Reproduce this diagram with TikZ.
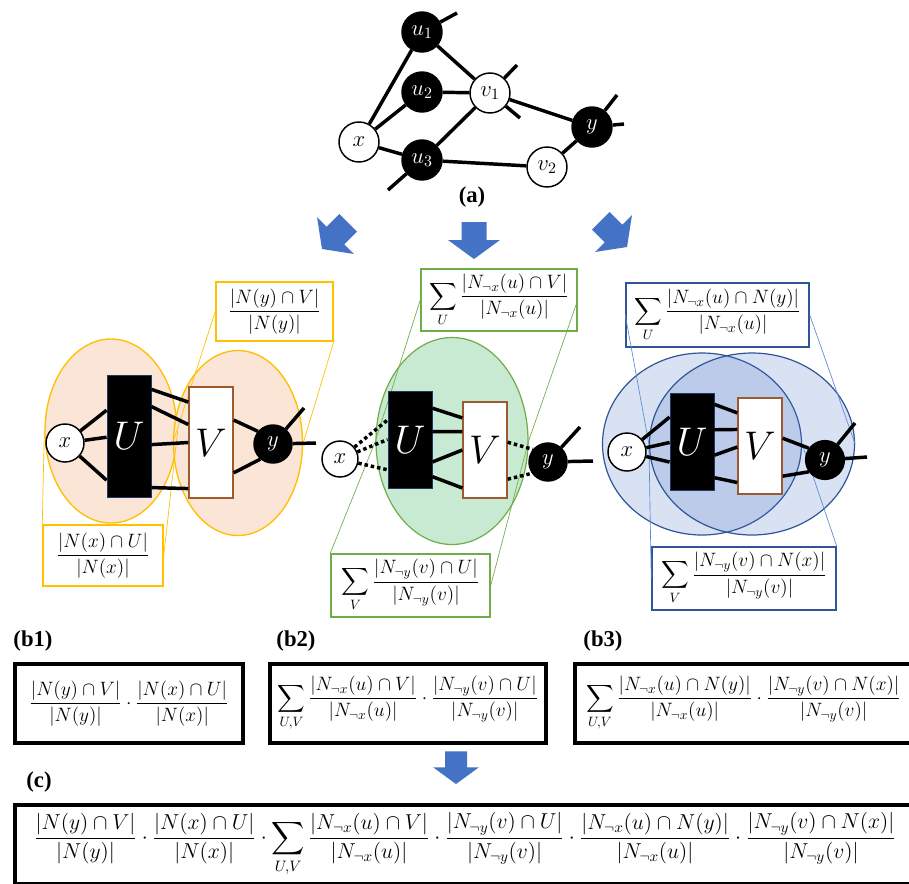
\RequirePackage{fix-cm}
\documentclass[tikz,border=0pt]{standalone}
\usepackage{amsmath}
\usepackage{fontspec}
\setmainfont{Liberation Serif}
\usetikzlibrary{calc,shapes.geometric}
\definecolor{oFill}{HTML}{FBE5D6}
\definecolor{oLine}{HTML}{FFC000}
\definecolor{gFill}{HTML}{C8EAD2}
\definecolor{gLine}{HTML}{70AD47}
\definecolor{bLine}{HTML}{2F5597}
\definecolor{bFill}{HTML}{4472C4}
\definecolor{bCl}{HTML}{5B8BD6}
\definecolor{aBlue}{HTML}{4472C4}
\definecolor{uLine}{HTML}{1F3864}
\definecolor{vLine}{HTML}{9C5B2E}
\newcommand{\FoneA}{\frac{|N(y)\cap V|}{|N(y)|}}
\newcommand{\FoneB}{\frac{|N(x)\cap U|}{|N(x)|}}
\newcommand{\FtwoA}{\frac{|N_{\neg x}(u)\cap V|}{|N_{\neg x}(u)|}}
\newcommand{\FtwoB}{\frac{|N_{\neg y}(v)\cap U|}{|N_{\neg y}(v)|}}
\newcommand{\FthrA}{\frac{|N_{\neg x}(u)\cap N(y)|}{|N_{\neg x}(u)|}}
\newcommand{\FthrB}{\frac{|N_{\neg y}(v)\cap N(x)|}{|N_{\neg y}(v)|}}
\newcommand{\blkarrow}[3]{\fill[aBlue, shift={#1}, rotate=#2, scale=#3] (0,0) -- (26,-19) -- (12.5,-19) -- (12.5,-37) -- (-12.5,-37) -- (-12.5,-19) -- (-26,-19) -- cycle;}
\tikzset{
  gn/.style={circle, draw=black, line width=1.1pt, inner sep=0pt, minimum size=30pt, font=\fontsize{17}{17}\selectfont},
  bn/.style={gn, fill=black, text=white},
  wn/.style={gn, fill=white},
  ed/.style={line width=2.6pt},
  dt/.style={line width=2.6pt, dash pattern=on 2.6pt off 2.2pt},
  ubox/.style={rectangle, fill=black, draw=uLine, line width=0.6pt, minimum width=33pt, text=white, font=\fontsize{30}{30}\selectfont, inner sep=0pt},
  vbox/.style={rectangle, fill=white, draw=vLine, line width=1pt, minimum width=33pt, font=\fontsize{30}{30}\selectfont, inner sep=0pt},
  oell/.style={ellipse, fill=oFill, draw=oLine, line width=1pt, inner sep=0pt},
  gell/.style={ellipse, fill=gFill, draw=gLine, line width=0.9pt, inner sep=0pt},
  bell/.style={ellipse, fill=bFill, fill opacity=0.2, draw=bLine, draw opacity=1, line width=0.9pt, inner sep=0pt},
  cbox/.style={rectangle, fill=white, line width=1.1pt, inner sep=0pt, font=\fontsize{14.5}{17}\selectfont},
  obox/.style={cbox, draw=oLine},
  gbox/.style={cbox, draw=gLine},
  bbox/.style={cbox, draw=bLine},
  ocl/.style={draw=oLine, line width=0.5pt},
  gcl/.style={draw=gLine, line width=0.5pt},
  bcl/.style={draw=bCl, line width=0.5pt},
  fbox/.style={rectangle, draw=black, line width=3pt, fill=white, inner sep=0pt, font=\fontsize{14.5}{17}\selectfont},
  lab/.style={font=\fontsize{17}{17}\selectfont\bfseries, inner sep=0pt},
}
\begin{document}
\begin{tikzpicture}[x=0.75pt,y=-0.75pt]
\useasboundingbox (0,0) rectangle (909,883);
\clip (0,0) rectangle (909,883);
\fill[white] (0,0) rectangle (909,883);

% ---------- (a) graph ----------
\node[bn] (u1) at (422,32) {$u_1$};
\node[bn] (u2) at (422,92) {$u_2$};
\node[bn] (u3) at (422,160) {$u_3$};
\node[wn] (xa) at (359,142) {$x$};
\node[wn] (v1) at (490,93) {$v_1$};
\node[wn] (v2) at (547,167) {$v_2$};
\node[bn] (ya) at (592,127) {$y$};
\coordinate (s1) at (457,13);
\coordinate (s2) at (517,65);
\coordinate (s3) at (520,118);
\coordinate (s4) at (617,95);
\coordinate (s5) at (624,124);
\coordinate (s6) at (388,190);
\foreach \a/\b in {xa/u1,xa/u2,xa/u3,u3/v2,u1/v1,u2/v1,u3/v1,v1/ya,v2/ya}
  \draw[ed] (\a) -- (\b);
\draw[ed] (u1) -- (s1);
\draw[ed] (v1) -- (s2);
\draw[ed] (v1) -- (s3);
\draw[ed] (ya) -- (s4);
\draw[ed] (ya) -- (s5);
\draw[ed] (u3) -- (s6);
\node[lab] (la) at (472,197) {(a)};

% ---------- arrows ----------
\blkarrow{(322,249)}{-45}{1}
\blkarrow{(474,259)}{0}{1}
\blkarrow{(627,247)}{45}{1}
\blkarrow{(456,784)}{0}{0.88}

% ---------- panel b1 ----------
\node[oell, minimum width=99pt, minimum height=138pt] (e1a) at (111,431) {};
\node[oell, minimum width=96.75pt, minimum height=138.75pt] (e1b) at (238,443) {};
\node[obox, minimum width=87.75pt, minimum height=44.25pt] (t1) at (274.5,311.5) {$\displaystyle\FoneA$};
\node[obox, minimum width=90pt, minimum height=45.75pt] (d1) at (103,555.5) {$\displaystyle\FoneB$};
\draw[ocl] (t1.west) -- (e1b.west);
\draw[ocl] (t1.south east) -- (e1b.east);
\draw[ocl] (d1.north west) -- (e1a.west);
\draw[ocl] (d1.east) -- (e1a.east);
\node[ubox, minimum height=91.5pt] (U1) at (129,436) {$U$};
\node[vbox, minimum height=83.25pt] (V1) at (211,442.5) {$V$};
\node[wn, minimum size=28.5pt] (x1) at (65,443) {$x$};
\node[bn, minimum size=28.5pt] (y1) at (273,444) {$y$};
\coordinate (s7) at (304,408);
\coordinate (s8) at (316,443);
\foreach \f in {0.29,0.51,0.86}
  \draw[ed] (x1) -- ($(U1.north west)!\f!(U1.south west)$);
\foreach \a/\b in {0.12/0.14,0.26/0.34,0.57/0.5,0.92/0.91}
  \draw[ed] ($(U1.north east)!\a!(U1.south east)$) -- ($(V1.north west)!\b!(V1.south west)$);
\foreach \a/\g in {0.3/140,0.77/230}
  \draw[ed] ($(V1.north east)!\a!(V1.south east)$) -- (y1.\g);
\draw[ed] (y1) -- (s7);
\draw[ed] (y1) -- (s8);

% ---------- panel b2 ----------
\node[gell, minimum width=114pt, minimum height=155.25pt] (e2) at (452,441) {};
\node[gbox, minimum width=117pt, minimum height=46.5pt] (t2) at (499,300) {$\displaystyle\sum_{U}\FtwoA$};
\node[gbox, minimum width=119.25pt, minimum height=47.25pt] (d2) at (410.5,585.5) {$\displaystyle\sum_{V}\FtwoB$};
\draw[gcl] (t2.west) -- (e2.west) -- (d2.north west);
\draw[gcl] (t2.east) -- (e2.east) -- (d2.east);
\node[ubox, minimum height=72.75pt] (U2) at (410,439.5) {$U$};
\node[vbox, minimum height=72pt] (V2) at (485,450) {$V$};
\node[wn, minimum size=27pt] (x2) at (340,459) {$x$};
\node[bn, minimum size=28.5pt] (y2) at (548,462) {$y$};
\coordinate (s9) at (580,427);
\coordinate (s10) at (593,461);
\foreach \f in {0.3,0.5,0.81}
  \draw[dt] (x2) -- ($(U2.north west)!\f!(U2.south west)$);
\foreach \a/\b in {0.18/0.17,0.42/0.31,0.73/0.5,0.88/0.89}
  \draw[ed] ($(U2.north east)!\a!(U2.south east)$) -- ($(V2.north west)!\b!(V2.south west)$);
\foreach \a/\g in {0.42/140,0.8/215}
  \draw[dt] ($(V2.north east)!\a!(V2.south east)$) -- (y2.\g);
\draw[ed] (y2) -- (s9);
\draw[ed] (y2) -- (s10);

% ---------- panel b3 ----------
\node[bell, minimum width=149.25pt, minimum height=136.5pt] (e3a) at (702,444) {};
\node[bell, minimum width=153.75pt, minimum height=136.5pt] (e3b) at (752,444) {};
\node[bbox, minimum width=137.25pt, minimum height=48pt] (t3) at (717.5,315) {$\displaystyle\sum_{U}\FthrA$};
\node[bbox, minimum width=138pt, minimum height=47.25pt] (d3) at (744,578.5) {$\displaystyle\sum_{V}\FthrB$};
\draw[bcl] (t3.west) -- (e3b.west) -- (d3.west);
\draw[bcl] (t3.east) -- (e3b.east);
\draw[bcl] (e3a.east) -- (d3.north east);
\node[ubox, minimum height=72.75pt] (U3) at (692,441.5) {$U$};
\node[vbox, minimum height=72pt] (V3) at (760,446) {$V$};
\node[wn, minimum size=28.5pt] (x3) at (627,452) {$x$};
\node[bn, minimum size=29pt] (y3) at (825,460) {$y$};
\coordinate (s11) at (855,423);
\coordinate (s12) at (867,457);
\foreach \f in {0.25,0.51,0.71}
  \draw[ed] (x3) -- ($(U3.north west)!\f!(U3.south west)$);
\foreach \a/\b in {0.12/0.16,0.38/0.33,0.64/0.51,0.87/0.875}
  \draw[ed] ($(U3.north east)!\a!(U3.south east)$) -- ($(V3.north west)!\b!(V3.south west)$);
\foreach \a/\g in {0.42/144,0.81/216}
  \draw[ed] ($(V3.north east)!\a!(V3.south east)$) -- (y3.\g);
\draw[ed] (y3) -- (s11);
\draw[ed] (y3) -- (s12);

% ---------- b boxes ----------
\node[lab] (lb1) at (33,641) {(b1)};
\node[lab] (lb2) at (296,641) {(b2)};
\node[lab] (lb3) at (603,641) {(b3)};
\node[fbox, minimum width=171pt, minimum height=59.25pt] (B1) at (129,703.5) {$\displaystyle\FoneA\cdot\FoneB$};
\node[fbox, minimum width=207pt, minimum height=59.25pt] (B2) at (408,703.5) {$\displaystyle\sum_{U,V}\FtwoA\cdot\FtwoB$};
\node[fbox, minimum width=252.75pt, minimum height=59.25pt] (B3) at (743.5,703.5) {$\displaystyle\sum_{U,V}\FthrA\cdot\FthrB$};

% ---------- c box ----------
\node[lab] (lc) at (39,782) {(c)};
\node[fbox, line width=3.5pt, minimum width=675pt, minimum height=59.25pt, font=\fontsize{16.2}{19}\selectfont] (C) at (465,844.5) {$\displaystyle\FoneA\cdot\FoneB\cdot\sum_{U,V}\FtwoA\cdot\FtwoB\cdot\FthrA\cdot\FthrB$};
\end{tikzpicture}
\end{document}
